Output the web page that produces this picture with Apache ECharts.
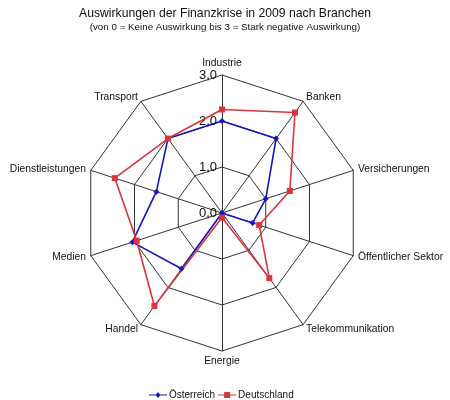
<!DOCTYPE html>
<html>
<head>
<meta charset="utf-8">
<script src="https://cdn.jsdelivr.net/npm/echarts@6/dist/echarts.min.js"></script>
<style>html,body{margin:0;padding:0;background:#fff}#c{width:450px;height:400px}</style>
</head>
<body>
<div id="c"></div>
<script>
// Categories in clockwise order starting at the top
const categories = ['Industrie','Banken','Versicherungen','Öffentlicher Sektor','Telekommunikation','Energie','Handel','Medien','Dienstleistungen','Transport'];
const oesterreich = [2.0, 2.0, 1.0, 0.7, 0.0, 0.0, 1.5, 2.05, 1.5, 2.0];
const deutschland = [2.25, 2.7, 1.55, 0.85, 1.75, 0.1, 2.5, 1.95, 2.45, 2.0];
const tickLabels = ['0,0','1,0','2,0','3,0'];
const seriesNames = ['Österreich','Deutschland'];

// ECharts radar runs counter-clockwise: reorder so the picture reads clockwise
const order = [0].concat(categories.slice(1).map((_, i) => categories.length - 1 - i));
const pick = arr => order.map(i => arr[i]);

const FONT = 'Liberation Sans, Arial, sans-serif';
const chart = echarts.init(document.getElementById('c'), null, {renderer: 'canvas'});
chart.setOption({
  animation: false,
  backgroundColor: '#fff',
  title: {
    text: 'Auswirkungen der Finanzkrise in 2009 nach Branchen',
    subtext: '(von 0 = Keine Auswirkung bis 3 = Stark negative Auswirkung)',
    left: 'center', top: 3, itemGap: 2,
    textStyle: {fontFamily: FONT, fontSize: 12.2, fontWeight: 'normal', color: '#111'},
    subtextStyle: {fontFamily: FONT, fontSize: 9.8, color: '#111'}
  },
  legend: {
    top: 385, left: 144, itemGap: 3, itemWidth: 18, itemHeight: 6,
    textStyle: {fontFamily: FONT, fontSize: 10, color: '#111', padding: [0, 0, 0, -3]},
    data: [
      {name: seriesNames[0], icon: 'path://M0,2.6L7,2.6L9,0L11,2.6L18,2.6L18,3.4L11,3.4L9,6L7,3.4L0,3.4Z'},
      {name: seriesNames[1], icon: 'path://M0,2.6L6,2.6L6,0L12,0L12,2.6L18,2.6L18,3.4L12,3.4L12,6L6,6L6,3.4L0,3.4Z'}
    ]
  },
  radar: {
    center: [222, 213],
    radius: 138,
    startAngle: 90,
    shape: 'polygon',
    splitNumber: 3,
    nameGap: 5,
    axisName: {fontFamily: FONT, fontSize: 10.3, color: '#111'},
    splitArea: {show: false},
    splitLine: {lineStyle: {color: '#333', width: 1}},
    axisLine: {lineStyle: {color: '#333', width: 1}},
    axisTick: {show: false},
    axisLabel: {show: false},
    indicator: pick(categories).map((name, i) => ({
      name: name, min: 0, max: 3,
      axisLabel: i === 0 ? {
        show: true, fontFamily: FONT, fontSize: 13, color: '#111', margin: 5,
        formatter: v => tickLabels[Math.round(v)]
      } : {show: false}
    }))
  },
  series: [{
    type: 'radar',
    symbolSize: 6,
    data: [
      {
        name: seriesNames[0], value: pick(oesterreich),
        symbol: 'diamond', symbolSize: 6,
        itemStyle: {color: '#1414c0'},
        lineStyle: {color: '#1414c0', width: 1.6}
      },
      {
        name: seriesNames[1], value: pick(deutschland),
        symbol: 'rect', symbolSize: 6,
        itemStyle: {color: '#d8353d'},
        lineStyle: {color: '#d8353d', width: 1.6}
      }
    ]
  }]
});
</script>
</body>
</html>
